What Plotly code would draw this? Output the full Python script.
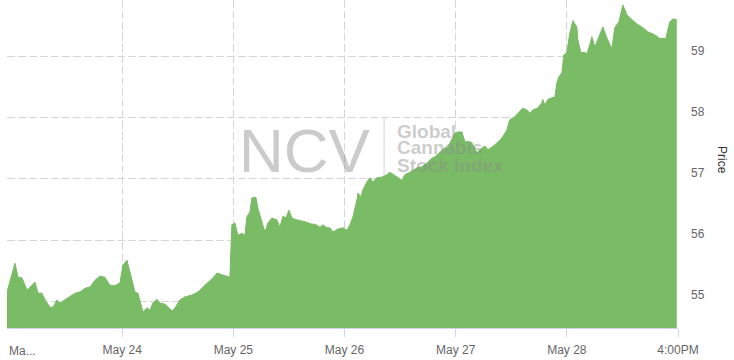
import plotly.graph_objects as go

# time in trading days from May 23 (0) to 4:00PM May 28 close (6)
days = [-0.036, 0.036, 0.063, 0.099, 0.126, 0.144, 0.189, 0.216, 0.243, 0.279, 0.306, 0.351, 0.378,
        0.414, 0.441, 0.486, 0.531, 0.576, 0.621, 0.665, 0.710, 0.755, 0.800, 0.845, 0.890, 0.935,
        0.980, 1.007, 1.043, 1.070, 1.115, 1.142, 1.187, 1.223, 1.250, 1.277, 1.313, 1.340, 1.385,
        1.448, 1.475, 1.520, 1.565, 1.628, 1.682, 1.727, 1.772, 1.817, 1.853, 1.897, 1.951, 1.969,
        1.978, 1.987, 2.014, 2.041, 2.077, 2.104, 2.122, 2.149, 2.167, 2.203, 2.221, 2.257, 2.284,
        2.311, 2.347, 2.392, 2.419, 2.446, 2.473, 2.500, 2.527, 2.572, 2.644, 2.707, 2.734, 2.779,
        2.806, 2.842, 2.869, 2.896, 2.941, 2.986, 3.022, 3.049, 3.076, 3.112, 3.121, 3.148, 3.165,
        3.201, 3.228, 3.255, 3.291, 3.336, 3.381, 3.408, 3.435, 3.480, 3.516, 3.543, 3.588, 3.651,
        3.696, 3.741, 3.786, 3.813, 3.858, 3.903, 3.930, 3.966, 3.993, 4.020, 4.056, 4.083, 4.110,
        4.146, 4.173, 4.191, 4.218, 4.245, 4.263, 4.290, 4.326, 4.371, 4.416, 4.460, 4.487, 4.532,
        4.577, 4.604, 4.640, 4.667, 4.694, 4.739, 4.775, 4.784, 4.802, 4.829, 4.865, 4.892, 4.910,
        4.928, 4.955, 4.973, 5.000, 5.027, 5.054, 5.090, 5.099, 5.126, 5.162, 5.180, 5.207, 5.225,
        5.252, 5.279, 5.324, 5.360, 5.405, 5.432, 5.468, 5.504, 5.540, 5.585, 5.629, 5.674, 5.728,
        5.791, 5.836, 5.890, 5.926, 5.953, 5.989]

price = [55.15, 55.62, 55.39, 55.38, 55.26, 55.18, 55.26, 55.31, 55.13, 55.13, 55.02, 54.90, 54.90,
         55.02, 54.97, 55.02, 55.08, 55.13, 55.15, 55.21, 55.23, 55.34, 55.41, 55.39, 55.26, 55.25,
         55.30, 55.59, 55.67, 55.46, 55.15, 55.13, 54.82, 54.89, 54.85, 54.97, 55.03, 54.97, 54.95,
         54.84, 54.89, 55.02, 55.07, 55.10, 55.15, 55.23, 55.30, 55.38, 55.46, 55.43, 55.39, 55.39,
         55.84, 56.25, 56.28, 56.08, 56.11, 56.08, 56.38, 56.46, 56.69, 56.70, 56.52, 56.30, 56.13,
         56.28, 56.36, 56.33, 56.21, 56.39, 56.36, 56.49, 56.36, 56.33, 56.30, 56.26, 56.26, 56.21,
         56.25, 56.20, 56.20, 56.13, 56.18, 56.20, 56.16, 56.25, 56.38, 56.66, 56.77, 56.70, 56.82,
         56.95, 57.02, 56.95, 57.02, 57.03, 57.07, 57.11, 57.08, 57.03, 56.98, 57.07, 57.11, 57.18,
         57.20, 57.26, 57.34, 57.36, 57.43, 57.51, 57.52, 57.64, 57.75, 57.77, 57.77, 57.61, 57.61,
         57.59, 57.48, 57.43, 57.48, 57.52, 57.54, 57.48, 57.52, 57.59, 57.67, 57.80, 57.97, 58.02,
         58.10, 58.16, 58.13, 58.08, 58.13, 58.16, 58.25, 58.30, 58.21, 58.30, 58.33, 58.34, 58.57,
         58.67, 58.74, 59.03, 59.07, 59.39, 59.59, 59.49, 59.28, 59.07, 59.07, 59.05, 59.20, 59.33,
         59.16, 59.28, 59.49, 59.31, 59.13, 59.48, 59.57, 59.85, 59.69, 59.61, 59.54, 59.49, 59.41,
         59.36, 59.30, 59.30, 59.57, 59.62, 59.61]

x_tickvals = [1, 2, 3, 4, 5, 6]
x_ticktext = ["May 24", "May 25", "May 26", "May 27", "May 28", "4:00PM"]
y_tickvals = [55, 56, 57, 58, 59]

GREEN = "rgb(122,187,102)"
GRID = "#d6d6d6"
DASH = "8px,3px"
FONT = "Liberation Sans, Arial, sans-serif"

fig = go.Figure()
fig.add_trace(go.Scatter(
    x=days, y=price, mode="lines", fill="tozeroy",
    line=dict(color=GREEN, width=1), fillcolor=GREEN, hoverinfo="skip",
))

fig.update_layout(
    width=734, height=360,
    margin=dict(l=7, r=56, t=0, b=32),
    paper_bgcolor="white", plot_bgcolor="white",
    showlegend=False,
    font=dict(family=FONT, size=12, color="#666666"),
    xaxis=dict(
        range=[-0.036, 6.0], tickvals=x_tickvals, ticktext=x_ticktext,
        showgrid=True, gridcolor=GRID, griddash=DASH, gridwidth=1,
        showline=True, linecolor="#ccd6eb", linewidth=1,
        ticks="outside", ticklen=8, tickcolor="#ccd6eb", ticklabelstandoff=3,
        tickfont=dict(size=12, color="#666666"), zeroline=False,
    ),
    yaxis=dict(
        side="right", range=[54.56, 59.93], tickvals=y_tickvals,
        showgrid=True, gridcolor=GRID, griddash=DASH, gridwidth=1,
        showline=False, ticks="", ticklabelstandoff=12, ticklabelshift=-6,
        tickfont=dict(size=12, color="#666666"), zeroline=False,
    ),
)

# left truncated first date label
fig.add_annotation(xref="paper", yref="paper", x=0.0, y=-0.07, xanchor="left", yanchor="middle",
                   text="Ma...", showarrow=False, font=dict(size=12, color="#666666"))
# axis title
fig.add_annotation(xref="paper", yref="paper", x=1.0656, y=0.512, xanchor="center", yanchor="middle",
                   text="Price", textangle=90, showarrow=False, font=dict(size=12, color="#333333"))

# watermark
WM = "rgba(140,140,140,0.45)"
fig.add_annotation(xref="paper", yref="paper", x=0.444, y=0.541, xanchor="center", yanchor="middle",
                   text="NCV", showarrow=False, font=dict(size=62, color=WM, family=FONT))
fig.add_shape(type="line", xref="paper", yref="paper", x0=0.562, x1=0.562, y0=0.46, y1=0.64,
              line=dict(color="rgba(140,140,140,0.35)", width=1))
for txt, yy in [("Global", 0.6006), ("Cannabis", 0.549), ("Stock Index", 0.494)]:
    fig.add_annotation(xref="paper", yref="paper", x=0.578, y=yy, xanchor="left", yanchor="middle",
                       text="<b>" + txt + "</b>", showarrow=False,
                       font=dict(size=19, color=WM, family=FONT))

fig.write_html("out.html", config={"displayModeBar": False},
               post_script="document.body.style.margin='0';")
